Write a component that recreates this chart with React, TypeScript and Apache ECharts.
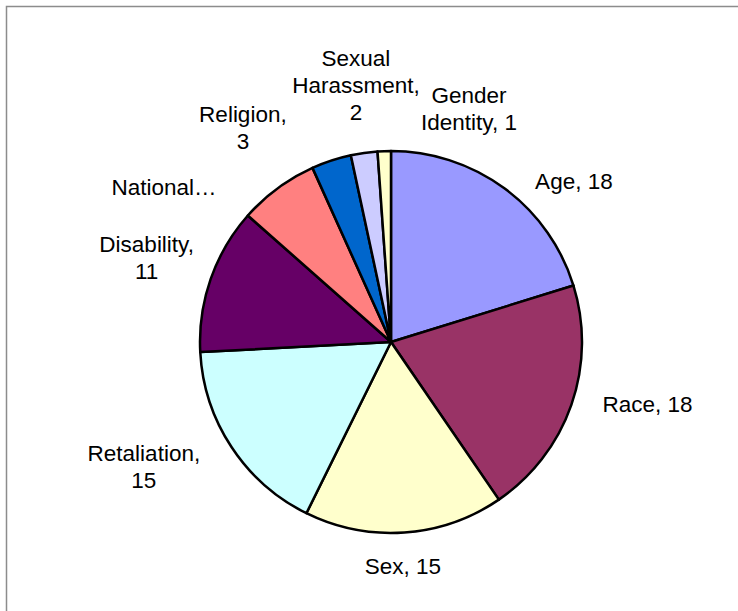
import React, { useEffect, useRef } from "react";
import * as echarts from "echarts";

const categories = [
  "Age",
  "Race",
  "Sex",
  "Retaliation",
  "Disability",
  "National Origin",
  "Religion",
  "Sexual Harassment",
  "Gender Identity",
];
const values = [18, 18, 15, 15, 11, 6, 3, 2, 1];
const colors = [
  "#9999FF",
  "#993366",
  "#FFFFCC",
  "#CCFFFF",
  "#660066",
  "#FF8080",
  "#0066CC",
  "#CCCCFF",
  "#FFFFCC",
];
// Text shown for each label (Excel-style wrapping / truncation)
const labelTexts = [
  "Age, 18",
  "Race, 18",
  "Sex, 15",
  "Retaliation,\n15",
  "Disability,\n11",
  "National…",
  "Religion,\n3",
  "Sexual\nHarassment,\n2",
  "Gender\nIdentity, 1",
];

// layout (not data)
const CX = 391;
const CY = 342;
const R = 192;
// label anchor: [angle clockwise from 12 o'clock in degrees, distance as multiple of radius]
const labelAnchors: [number, number][] = [
  [48.65, 1.269],
  [103.6, 1.374],
  [177, 1.173],
  [243.2, 1.442],
  [289.0, 1.346],
  [304.15, 1.429],
  [325.3, 1.355],
  [352.2, 1.346],
  [18.5, 1.28],
];

export default function App() {
  const ref = useRef<HTMLDivElement>(null);
  useEffect(() => {
    if (!ref.current) return;
    const chart = echarts.init(ref.current, undefined, { renderer: "svg" });
    chart.setOption({
      animation: false,
      backgroundColor: "#ffffff",
      graphic: [
        {
          type: "rect",
          shape: { x: 6.5, y: 6.5, width: 900, height: 900 },
          style: { fill: "none", stroke: "#8c8c8c", lineWidth: 1.5 },
          silent: true,
        },
      ],
      series: [
        {
          type: "pie",
          center: [CX, CY],
          radius: [0, R - 1],
          startAngle: 90,
          clockwise: true,
          avoidLabelOverlap: false,
          itemStyle: { borderColor: "#000000", borderWidth: 2.5 },
          label: {
            show: true,
            position: "outside",
            formatter: (p: any) => labelTexts[p.dataIndex],
            color: "#000000",
            fontFamily: "'Liberation Sans', Arial, sans-serif",
            fontSize: 22.5,
            lineHeight: 27,
            align: "center",
          },
          labelLine: { show: false },
          labelLayout: (params: any) => {
            const [a, f] = labelAnchors[params.dataIndex];
            const rad = (a * Math.PI) / 180;
            return {
              x: CX + R * f * Math.sin(rad),
              y: CY - R * f * Math.cos(rad),
              align: "center",
              verticalAlign: "middle",
            };
          },
          emphasis: { disabled: true },
          data: categories.map((name, i) => ({
            name,
            value: values[i],
            itemStyle: { color: colors[i] },
          })),
        },
      ],
    });
    return () => chart.dispose();
  }, []);
  return (
    <div
      ref={ref}
      style={{ position: "fixed", left: 0, top: 0, width: 738, height: 611 }}
    />
  );
}
